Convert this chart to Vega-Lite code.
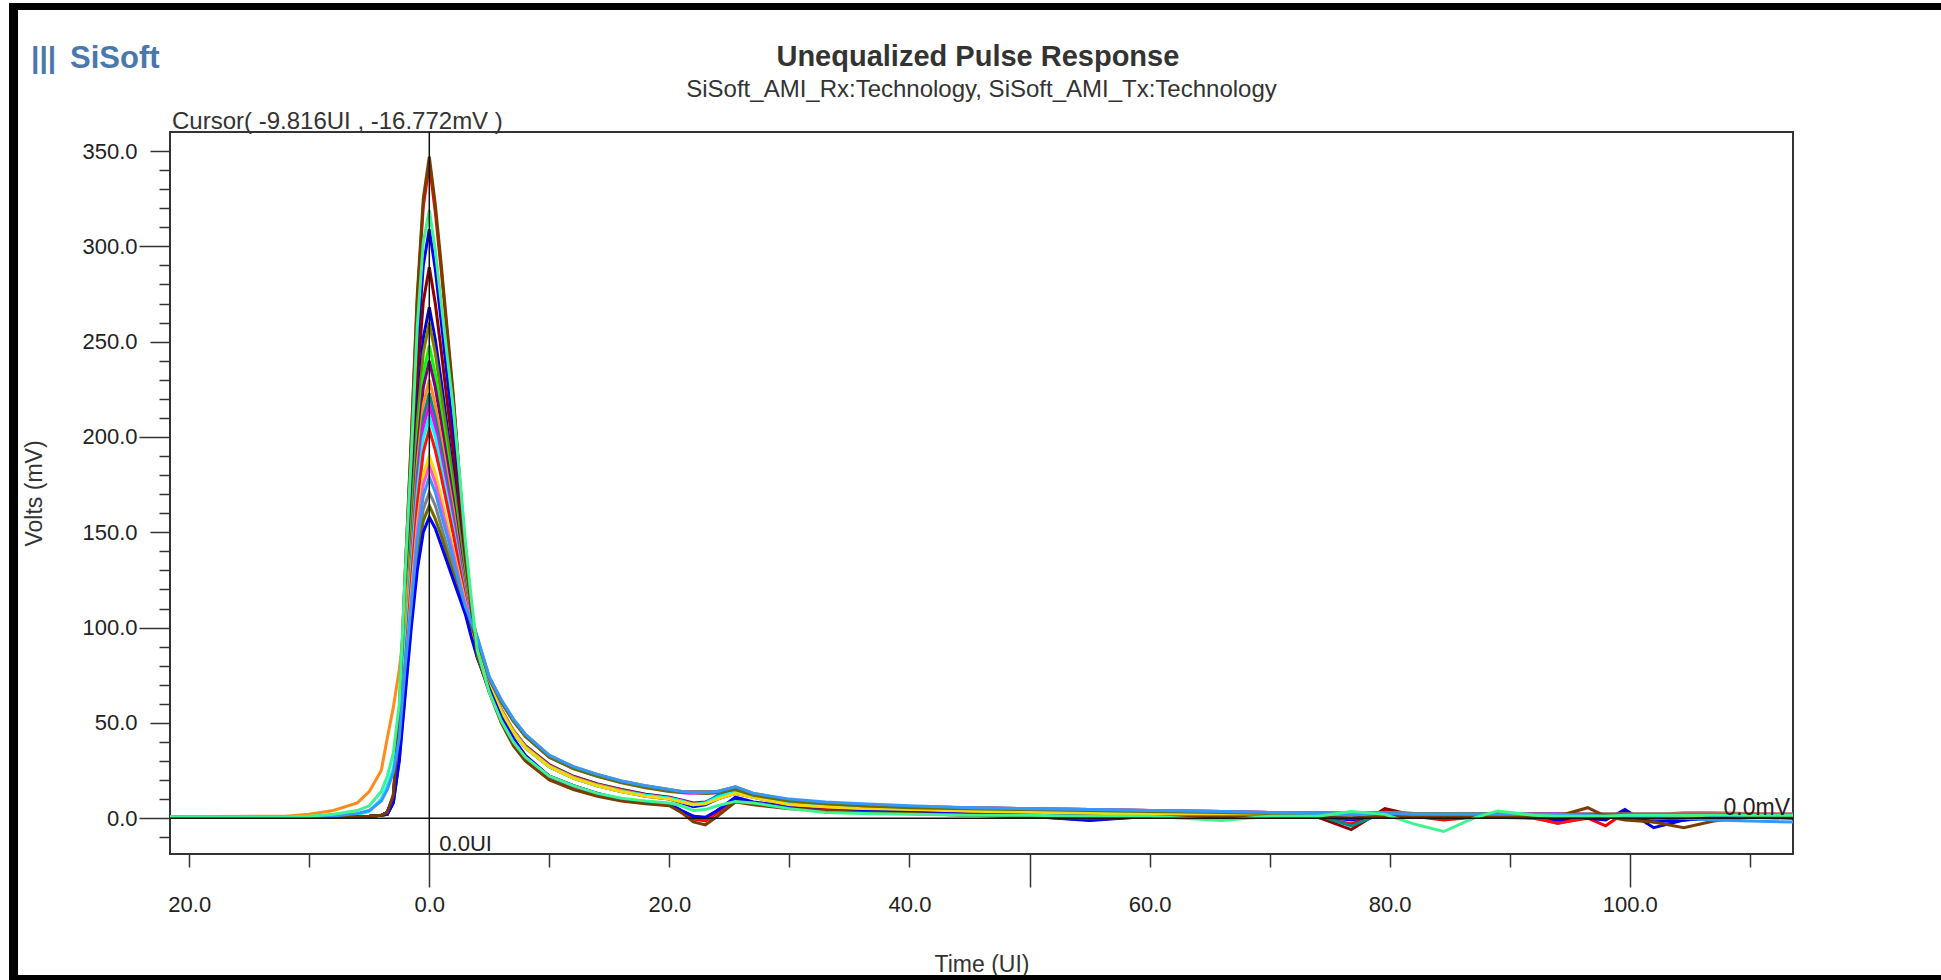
{
  "$schema": "https://vega.github.io/schema/vega-lite/v6.json",
  "autosize": "none",
  "width": 1623,
  "height": 722,
  "padding": {"left": 170, "top": 132, "right": 148, "bottom": 126},
  "background": "white",
  "config": {
    "font": "Liberation Sans",
    "view": {"stroke": "#333333", "strokeWidth": 2},
    "axis": {"grid": false, "domain": false, "labelFont": "Liberation Sans", "titleFont": "Liberation Sans"}
  },
  "resolve": {"axis": {"y": "independent"}},
  "datasets": {
    "pulses": [
      {"t":-21.6,"s01":0.8,"s02":0.8,"s03":0.8,"s04":0.8,"s05":0.8,"s06":0.8,"s07":0.8,"s08":0.8,"s09":0.8,"s10":0.8,"s11":0.8,"s12":0.8,"s13":0.8,"s14":0.8,"s15":0.8,"s16":0.8,"s17":0.8,"s18":0.8,"s19":0.8,"s20":0.8},
      {"t":-12,"s01":0.8,"s02":0.8,"s03":0.8,"s04":0.8,"s05":0.8,"s06":0.8,"s07":0.8,"s08":0.8,"s09":0.8,"s10":1,"s11":0.8,"s12":0.8,"s13":0.8,"s14":0.8,"s15":0.8,"s16":0.8,"s17":0.8,"s18":0.8,"s19":0.8,"s20":0.8},
      {"t":-10,"s01":0.8,"s02":0.8,"s03":1,"s04":0.8,"s05":0.8,"s06":0.8,"s07":0.8,"s08":0.8,"s09":0.8,"s10":2,"s11":0.8,"s12":0.8,"s13":0.8,"s14":0.8,"s15":0.8,"s16":0.8,"s17":0.8,"s18":0.8,"s19":0.8,"s20":0.8},
      {"t":-8,"s01":0.8,"s02":0.8,"s03":2,"s04":0.8,"s05":0.8,"s06":0.8,"s07":0.8,"s08":0.8,"s09":0.8,"s10":4,"s11":0.8,"s12":0.8,"s13":1,"s14":0.8,"s15":0.8,"s16":0.8,"s17":1.2,"s18":0.8,"s19":0.8,"s20":0.8},
      {"t":-6,"s01":0.8,"s02":0.8,"s03":4,"s04":0.8,"s05":0.8,"s06":0.8,"s07":0.8,"s08":0.8,"s09":0.8,"s10":8,"s11":0.8,"s12":0.8,"s13":1.8,"s14":0.8,"s15":0.8,"s16":0.8,"s17":2.5,"s18":0.8,"s19":0.8,"s20":0.8},
      {"t":-5,"s01":1,"s02":1,"s03":6.5,"s04":1,"s05":1,"s06":1,"s07":1,"s08":1,"s09":1,"s10":14,"s11":1,"s12":1,"s13":3.5,"s14":1,"s15":1,"s16":1,"s17":4,"s18":1,"s19":1,"s20":1},
      {"t":-4,"s01":1.5,"s02":1.5,"s03":14,"s04":1.5,"s05":1.5,"s06":1.5,"s07":1.5,"s08":1.5,"s09":1.5,"s10":25,"s11":1.5,"s12":1.5,"s13":10,"s14":1.5,"s15":1.5,"s16":1.5,"s17":9,"s18":1.5,"s19":1.5,"s20":1.5},
      {"t":-3.5,"s01":3,"s02":3,"s03":22,"s04":3,"s05":3,"s06":3,"s07":2.5,"s08":2.5,"s09":2.4,"s10":42,"s11":2.3,"s12":2.3,"s13":17,"s14":2.2,"s15":2.2,"s16":2.1,"s17":15,"s18":2.1,"s19":2,"s20":2},
      {"t":-3,"s01":12,"s02":12,"s03":34,"s04":11,"s05":11,"s06":10,"s07":10,"s08":10,"s09":9.7,"s10":58,"s11":9.4,"s12":9.2,"s13":26,"s14":9,"s15":8.7,"s16":8.6,"s17":24,"s18":8.3,"s19":8.1,"s20":8},
      {"t":-2.5,"s01":55,"s02":54,"s03":60,"s04":50,"s05":47,"s06":45,"s07":43,"s08":42,"s09":41,"s10":78,"s11":39,"s12":38,"s13":45,"s14":36,"s15":34,"s16":34,"s17":42,"s18":32,"s19":31,"s20":30},
      {"t":-2,"s01":130,"s02":129,"s03":130,"s04":117,"s05":110,"s06":103,"s07":100,"s08":96,"s09":93,"s10":105,"s11":87,"s12":85,"s13":90,"s14":81,"s15":76,"s16":74,"s17":80,"s18":70,"s19":67,"s20":65},
      {"t":-1.5,"s01":200,"s02":198,"s03":190,"s04":180,"s05":169,"s06":158,"s07":154,"s08":148,"s09":143,"s10":140,"s11":134,"s12":131,"s13":130,"s14":124,"s15":117,"s16":114,"s17":112,"s18":107,"s19":103,"s20":100},
      {"t":-1,"s01":275,"s02":272,"s03":258,"s04":246,"s05":230,"s06":214,"s07":208,"s08":199,"s09":193,"s10":186,"s11":180,"s12":175,"s13":171,"s14":165,"s15":154,"s16":151,"s17":146,"s18":140,"s19":135,"s20":130},
      {"t":-0.5,"s01":325,"s02":321,"s03":302,"s04":290,"s05":271,"s06":252,"s07":244,"s08":233,"s09":226,"s10":217,"s11":210,"s12":205,"s13":199,"s14":192,"s15":180,"s16":175,"s17":169,"s18":162,"s19":156,"s20":150},
      {"t":0,"s01":347,"s02":343,"s03":319,"s04":309,"s05":289,"s06":268,"s07":260,"s08":248,"s09":240,"s10":230,"s11":223,"s12":217,"s13":211,"s14":204,"s15":190,"s16":185,"s17":179,"s18":171,"s19":164,"s20":158},
      {"t":0.5,"s01":322,"s02":318,"s03":298,"s04":288,"s05":270,"s06":251,"s07":244,"s08":233,"s09":226,"s10":217,"s11":210,"s12":205,"s13":200,"s14":193,"s15":181,"s16":176,"s17":171,"s18":164,"s19":157,"s20":152},
      {"t":1,"s01":290,"s02":287,"s03":270,"s04":260,"s05":245,"s06":229,"s07":222,"s08":213,"s09":207,"s10":199,"s11":194,"s12":189,"s13":184,"s14":179,"s15":168,"s16":164,"s17":159,"s18":153,"s19":148,"s20":143},
      {"t":1.5,"s01":256,"s02":253,"s03":242,"s04":231,"s05":218,"s06":205,"s07":200,"s08":192,"s09":187,"s10":180,"s11":176,"s12":172,"s13":168,"s14":164,"s15":155,"s16":151,"s17":148,"s18":142,"s19":138,"s20":134},
      {"t":2,"s01":222,"s02":220,"s03":215,"s04":202,"s05":192,"s06":181,"s07":177,"s08":171,"s09":167,"s10":162,"s11":158,"s12":155,"s13":152,"s14":149,"s15":141,"s16":139,"s17":136,"s18":132,"s19":128,"s20":125},
      {"t":2.5,"s01":180,"s02":179,"s03":182,"s04":167,"s05":160,"s06":153,"s07":151,"s08":146,"s09":144,"s10":140,"s11":138,"s12":136,"s13":134,"s14":132,"s15":127,"s16":125,"s17":123,"s18":120,"s19":118,"s20":116},
      {"t":3,"s01":140,"s02":139,"s03":146,"s04":133,"s05":130,"s06":126,"s07":125,"s08":123,"s09":121,"s10":120,"s11":118,"s12":117,"s13":116,"s14":115,"s15":113,"s16":112,"s17":111,"s18":109,"s19":108,"s20":107},
      {"t":3.5,"s01":110,"s02":110,"s03":115,"s04":109,"s05":105,"s06":104,"s07":108,"s08":104,"s09":103,"s10":103,"s11":102,"s12":105,"s13":101,"s14":99,"s15":100,"s16":102,"s17":103,"s18":101,"s19":100,"s20":95},
      {"t":4,"s01":85,"s02":85,"s03":88,"s04":90,"s05":85,"s06":85,"s07":94,"s08":90,"s09":90,"s10":90,"s11":90,"s12":94,"s13":90,"s14":85,"s15":90,"s16":94,"s17":95,"s18":94,"s19":93,"s20":84},
      {"t":5,"s01":66,"s02":67,"s03":66,"s04":70,"s05":67,"s06":68,"s07":74,"s08":71,"s09":71,"s10":71,"s11":70,"s12":73,"s13":70,"s14":67,"s15":70,"s16":73,"s17":74,"s18":73,"s19":73,"s20":68},
      {"t":6,"s01":50,"s02":51,"s03":51,"s04":56,"s05":52,"s06":52,"s07":62,"s08":57,"s09":57,"s10":57,"s11":56,"s12":61,"s13":56,"s14":52,"s15":56,"s16":61,"s17":62,"s18":61,"s19":61,"s20":53},
      {"t":7,"s01":38,"s02":39,"s03":40,"s04":45,"s05":40,"s06":40,"s07":52,"s08":46,"s09":46,"s10":46,"s11":45,"s12":51,"s13":45,"s14":40,"s15":45,"s16":51,"s17":52,"s18":51,"s19":51,"s20":42},
      {"t":8,"s01":30,"s02":31,"s03":32,"s04":37,"s05":31,"s06":32,"s07":44,"s08":38,"s09":38,"s10":37.5,"s11":37,"s12":43,"s13":37,"s14":31,"s15":37,"s16":43,"s17":44,"s18":43,"s19":43,"s20":33},
      {"t":10,"s01":20,"s02":21,"s03":22,"s04":27,"s05":21.5,"s06":22,"s07":33,"s08":28,"s09":28,"s10":27.5,"s11":27,"s12":32.5,"s13":27,"s14":21,"s15":27,"s16":32,"s17":33,"s18":32,"s19":32,"s20":22},
      {"t":12,"s01":15,"s02":16,"s03":17,"s04":21,"s05":16,"s06":17,"s07":27,"s08":22,"s09":22,"s10":21.5,"s11":21,"s12":26.5,"s13":21,"s14":16,"s15":21,"s16":26.5,"s17":27,"s18":26,"s19":26,"s20":17},
      {"t":14,"s01":11.5,"s02":12,"s03":13,"s04":17,"s05":12.5,"s06":13,"s07":23,"s08":18,"s09":18,"s10":17.5,"s11":17,"s12":22.5,"s13":17,"s14":12.5,"s15":17,"s16":22.5,"s17":23,"s18":22,"s19":22,"s20":13},
      {"t":16,"s01":9,"s02":9.5,"s03":10.5,"s04":14,"s05":10,"s06":10,"s07":19.5,"s08":15,"s09":15,"s10":14.5,"s11":14,"s12":19,"s13":14,"s14":10,"s15":14,"s16":19,"s17":19.5,"s18":19,"s19":18.5,"s20":10},
      {"t":18,"s01":7.5,"s02":8,"s03":9,"s04":11.5,"s05":8.5,"s06":8.5,"s07":17,"s08":12.5,"s09":12.5,"s10":12,"s11":12,"s12":16.5,"s13":12,"s14":8.5,"s15":11.5,"s16":16.5,"s17":17,"s18":16.5,"s19":16,"s20":8.5},
      {"t":20,"s01":6.5,"s02":7,"s03":8,"s04":10,"s05":7.5,"s06":7.5,"s07":15,"s08":11,"s09":11,"s10":10.5,"s11":10.5,"s12":14.5,"s13":10.5,"s14":7.5,"s15":10,"s16":14.5,"s17":15,"s18":14.5,"s19":14,"s20":7.5},
      {"t":21,"s01":3,"s02":3,"s03":6.5,"s04":8,"s05":3.5,"s06":4,"s07":14,"s08":9,"s09":9.5,"s10":9,"s11":9,"s12":13.5,"s13":9,"s14":3.5,"s15":8.5,"s16":13.5,"s17":14,"s18":14,"s19":13.5,"s20":4},
      {"t":22,"s01":-2,"s02":-0.5,"s03":4,"s04":6,"s05":0,"s06":1,"s07":14,"s08":7,"s09":8,"s10":7.5,"s11":7,"s12":13,"s13":7,"s14":0,"s15":7,"s16":13,"s17":13.5,"s18":14,"s19":13.5,"s20":1},
      {"t":23,"s01":-3.5,"s02":-1.5,"s03":4.5,"s04":7,"s05":-1,"s06":0,"s07":13.5,"s08":8,"s09":8.5,"s10":8,"s11":8,"s12":13,"s13":8,"s14":-1,"s15":7.5,"s16":13,"s17":13.5,"s18":14,"s19":13,"s20":0.5},
      {"t":24,"s01":1,"s02":3,"s03":6.5,"s04":10,"s05":3.5,"s06":4,"s07":14,"s08":11,"s09":11,"s10":10.5,"s11":12,"s12":13.5,"s13":11,"s14":3.5,"s15":10,"s16":13.5,"s17":14,"s18":14,"s19":13.5,"s20":4},
      {"t":25.5,"s01":8.5,"s02":10,"s03":8.8,"s04":13,"s05":10,"s06":11,"s07":16.5,"s08":14,"s09":14,"s10":13,"s11":16,"s12":15.5,"s13":14,"s14":10,"s15":13,"s16":15.5,"s17":16.5,"s18":15.5,"s19":15,"s20":10.5},
      {"t":27,"s01":7,"s02":8,"s03":8,"s04":11,"s05":8,"s06":8.5,"s07":13,"s08":11.5,"s09":11.5,"s10":11,"s11":12,"s12":12.5,"s13":11,"s14":8,"s15":11,"s16":12.5,"s17":13,"s18":12.5,"s19":12,"s20":8},
      {"t":30,"s01":5,"s02":5.5,"s03":5,"s04":7,"s05":5.5,"s06":6,"s07":9.6,"s08":7.5,"s09":7.5,"s10":7,"s11":7.5,"s12":9.5,"s13":7.5,"s14":5.5,"s15":7,"s16":9.5,"s17":10,"s18":9.5,"s19":9,"s20":5.5},
      {"t":33,"s01":4,"s02":4.5,"s03":3,"s04":6,"s05":4.5,"s06":4,"s07":8,"s08":6,"s09":6,"s10":6,"s11":6,"s12":8,"s13":6,"s14":4.5,"s15":6,"s16":8,"s17":8.5,"s18":8,"s19":7.5,"s20":4},
      {"t":36,"s01":3,"s02":3.5,"s03":2.5,"s04":5,"s05":3.5,"s06":3.5,"s07":7,"s08":5,"s09":5,"s10":5,"s11":5,"s12":7,"s13":5,"s14":3.5,"s15":5,"s16":7,"s17":7.5,"s18":7,"s19":6.5,"s20":3.5},
      {"t":40,"s01":2.5,"s02":2.5,"s03":2,"s04":4,"s05":3,"s06":3,"s07":6,"s08":4.5,"s09":4.5,"s10":4,"s11":4,"s12":6,"s13":4.5,"s14":3,"s15":4.5,"s16":6,"s17":6.5,"s18":6,"s19":5.5,"s20":3},
      {"t":45,"s01":1.5,"s02":1.5,"s03":1.5,"s04":3.5,"s05":2,"s06":2,"s07":5.5,"s08":4,"s09":3.5,"s10":3.5,"s11":3.5,"s12":5.5,"s13":4,"s14":2,"s15":3.5,"s16":5.5,"s17":5.5,"s18":5.5,"s19":5,"s20":2},
      {"t":50,"s01":0.5,"s02":1,"s03":1.5,"s04":3,"s05":1.5,"s06":1,"s07":5,"s08":3.5,"s09":3,"s10":3,"s11":3,"s12":5,"s13":3.5,"s14":1.5,"s15":3,"s16":5,"s17":5,"s18":5,"s19":4.5,"s20":1.5},
      {"t":55,"s01":0,"s02":-1,"s03":1,"s04":2.5,"s05":1,"s06":-1.2,"s07":4.5,"s08":3,"s09":2.5,"s10":2.5,"s11":2.5,"s12":4.5,"s13":3,"s14":1,"s15":2.5,"s16":4.5,"s17":4.5,"s18":4.5,"s19":4,"s20":1},
      {"t":60,"s01":0.5,"s02":1,"s03":1,"s04":2,"s05":1,"s06":1,"s07":4,"s08":2.5,"s09":2,"s10":2,"s11":2,"s12":4,"s13":2.5,"s14":1,"s15":2,"s16":4,"s17":4,"s18":4,"s19":3.5,"s20":0.5},
      {"t":66,"s01":0.5,"s02":1,"s03":-1.2,"s04":2,"s05":1,"s06":1,"s07":3.5,"s08":3.5,"s09":2,"s10":2,"s11":2,"s12":3.5,"s13":2.5,"s14":0.5,"s15":2,"s16":3.5,"s17":3.5,"s18":3.5,"s19":3,"s20":0.5},
      {"t":70,"s01":0.5,"s02":1,"s03":1,"s04":1.5,"s05":1,"s06":1.5,"s07":3,"s08":2,"s09":2,"s10":2,"s11":1.5,"s12":3,"s13":2,"s14":0.5,"s15":2,"s16":3,"s17":3,"s18":3,"s19":2.5,"s20":0.5},
      {"t":74,"s01":0.5,"s02":0.5,"s03":1,"s04":1.5,"s05":0.5,"s06":1,"s07":3,"s08":2,"s09":1.5,"s10":1.5,"s11":1.5,"s12":3,"s13":2,"s14":0.5,"s15":1.5,"s16":3,"s17":2.5,"s18":3,"s19":2.5,"s20":0.5},
      {"t":76.8,"s01":0,"s02":-3,"s03":3.5,"s04":1,"s05":-6,"s06":-1,"s07":2,"s08":1,"s09":1,"s10":1,"s11":-4,"s12":3,"s13":1,"s14":0,"s15":1.5,"s16":3,"s17":2,"s18":2.5,"s19":2,"s20":0},
      {"t":79.6,"s01":1,"s02":4,"s03":2,"s04":2,"s05":5,"s06":2,"s07":3,"s08":2,"s09":2,"s10":2,"s11":3,"s12":3,"s13":2,"s14":1.5,"s15":2,"s16":3,"s17":2.5,"s18":3,"s19":2.5,"s20":1},
      {"t":82,"s01":0.5,"s02":1,"s03":-3,"s04":1.5,"s05":1.5,"s06":1,"s07":2.5,"s08":1.5,"s09":1.5,"s10":1.5,"s11":1.5,"s12":2.5,"s13":1.5,"s14":1,"s15":1.5,"s16":2.5,"s17":2,"s18":2.5,"s19":2,"s20":0.5},
      {"t":84.5,"s01":0.5,"s02":-1,"s03":-7,"s04":1.5,"s05":1,"s06":1,"s07":2,"s08":1.5,"s09":1.5,"s10":1.5,"s11":1.5,"s12":2.5,"s13":1.5,"s14":0.5,"s15":2.5,"s16":2.5,"s17":2,"s18":2.5,"s19":2,"s20":0.5},
      {"t":87,"s01":0.5,"s02":0.5,"s03":0,"s04":1.5,"s05":0.5,"s06":1,"s07":2,"s08":1.5,"s09":1.5,"s10":1.5,"s11":1.5,"s12":2.5,"s13":1.5,"s14":0.5,"s15":1.5,"s16":2.5,"s17":2,"s18":2.5,"s19":2,"s20":0.5},
      {"t":89,"s01":0.5,"s02":0.5,"s03":3.8,"s04":1.5,"s05":0.5,"s06":1,"s07":2,"s08":1.5,"s09":1.5,"s10":1.5,"s11":1.5,"s12":2.5,"s13":1.5,"s14":0.5,"s15":1.5,"s16":2.5,"s17":2,"s18":2.5,"s19":2,"s20":0.5},
      {"t":92,"s01":0.5,"s02":0,"s03":1.5,"s04":1.5,"s05":0.5,"s06":0.5,"s07":2,"s08":1.5,"s09":1,"s10":1.5,"s11":1.5,"s12":2.5,"s13":1.5,"s14":0.5,"s15":1.5,"s16":2,"s17":2,"s18":2,"s19":2,"s20":0.5},
      {"t":94,"s01":1,"s02":-2.5,"s03":1,"s04":1.5,"s05":0,"s06":-1,"s07":2,"s08":1.5,"s09":1,"s10":1.5,"s11":1.5,"s12":2.5,"s13":1.5,"s14":-2.8,"s15":1.5,"s16":2,"s17":2,"s18":2,"s19":2,"s20":0.5},
      {"t":96.5,"s01":5.5,"s02":0,"s03":1,"s04":1.5,"s05":0.5,"s06":0,"s07":2,"s08":1.5,"s09":1,"s10":1.5,"s11":1,"s12":2,"s13":1.5,"s14":0.5,"s15":1.5,"s16":2,"s17":1.5,"s18":2,"s19":2,"s20":0.5},
      {"t":98,"s01":1,"s02":-4,"s03":1,"s04":1.5,"s05":1,"s06":-1,"s07":2,"s08":1.5,"s09":1,"s10":1.5,"s11":1,"s12":2,"s13":1.5,"s14":0.5,"s15":1.5,"s16":2,"s17":1,"s18":2,"s19":2,"s20":0.5},
      {"t":99.6,"s01":-1,"s02":3,"s03":1.5,"s04":1.5,"s05":2,"s06":4.6,"s07":2,"s08":1.5,"s09":1,"s10":1.5,"s11":1,"s12":2,"s13":1.5,"s14":1,"s15":1.5,"s16":2,"s17":1,"s18":2,"s19":2,"s20":1},
      {"t":102,"s01":-2,"s02":-1,"s03":1.5,"s04":1.5,"s05":0,"s06":-5,"s07":2,"s08":1,"s09":1,"s10":1.5,"s11":-1,"s12":2,"s13":1.5,"s14":1,"s15":1.5,"s16":2,"s17":0.5,"s18":2,"s19":2,"s20":-2},
      {"t":104.5,"s01":-5,"s02":-1,"s03":1.5,"s04":1.5,"s05":-0.5,"s06":-1,"s07":2,"s08":1,"s09":1,"s10":3,"s11":1,"s12":2,"s13":1.5,"s14":0.5,"s15":1.5,"s16":2,"s17":0,"s18":2,"s19":2,"s20":-1},
      {"t":107,"s01":-1.5,"s02":1,"s03":1.5,"s04":1.5,"s05":0.5,"s06":0,"s07":2,"s08":1,"s09":1,"s10":3,"s11":1,"s12":2,"s13":1.5,"s14":0.5,"s15":1.5,"s16":2,"s17":-1,"s18":2,"s19":2,"s20":0.5},
      {"t":110,"s01":0.5,"s02":1.5,"s03":1.5,"s04":1.5,"s05":1,"s06":0.5,"s07":2,"s08":1,"s09":1,"s10":2.5,"s11":1,"s12":2,"s13":1,"s14":0.5,"s15":1,"s16":2,"s17":-1.5,"s18":2,"s19":2,"s20":1},
      {"t":113.6,"s01":0.5,"s02":1,"s03":1.5,"s04":1,"s05":1,"s06":0,"s07":2,"s08":1,"s09":1,"s10":2,"s11":1,"s12":2,"s13":1,"s14":0.5,"s15":1,"s16":2,"s17":-2,"s18":2,"s19":1.5,"s20":1.5}
    ]
  },
  "layer": [
    {
      "data": {"name": "pulses"},
      "transform": [{"fold": ["s02","s04","s05","s06","s07","s08","s09","s10","s11","s12","s13","s14","s15","s16","s18","s19","s20","s01","s17","s03"], "as": ["trace", "mV"]}],
      "mark": {"type": "line", "strokeWidth": 3, "interpolate": "linear"},
      "encoding": {
        "x": {
          "field": "t", "type": "quantitative",
          "scale": {"domain": [-21.6, 113.6], "nice": false, "zero": false},
          "axis": {
            "values": [-20,-10,0,10,20,30,40,50,60,70,80,90,100,110],
            "labelExpr": "datum.value % 20 === 0 ? format(abs(datum.value), '.1f') : ''",
            "tickSize": {"condition": {"test": "datum.value % 50 === 0", "value": 33}, "value": 13},
            "labelPadding": {"condition": {"test": "datum.value % 50 === 0", "value": 7}, "value": 27},
            "tickColor": "#333333", "tickWidth": 1.5,
            "labelFontSize": 22, "labelColor": "#222222",
            "labelFlush": false, "labelOverlap": false,
            "title": "Time (UI)", "titleFontSize": 23, "titleFontWeight": "normal", "titleColor": "#333333", "titlePadding": 38
          }
        },
        "y": {
          "field": "mV", "type": "quantitative",
          "scale": {"domain": [-18.8, 360], "nice": false, "zero": false},
          "axis": {
            "orient": "left",
            "values": [0,50,100,150,200,250,300,350],
            "format": ".1f",
            "tickSize": {"condition": {"test": "datum.value % 100 === 0", "value": 31}, "value": 20},
            "labelPadding": {"condition": {"test": "datum.value % 100 === 0", "value": 2}, "value": 13},
            "tickColor": "#333333", "tickWidth": 1.5,
            "labelFontSize": 22, "labelColor": "#222222",
            "labelOverlap": false, "labelFlush": false,
            "title": "Volts (mV)", "titleFontSize": 23, "titleFontWeight": "normal", "titleColor": "#333333", "titlePadding": 35
          }
        },
        "color": {
          "field": "trace", "type": "nominal", "legend": null,
          "scale": {
            "domain": ["s01","s02","s03","s04","s05","s06","s07","s08","s09","s10","s11","s12","s13","s14","s15","s16","s17","s18","s19","s20"],
            "range": ["#7A3D00","#FF0000","#3CF58F","#0000FF","#8B0000","#0000E0","#808000","#00FF00","#800080","#FF8C1A","#008B8B","#FF00FF","#00FFFF","#FF1010","#FFD700","#FF55DD","#3399FF","#808080","#6B6B00","#0000FF"]
          }
        }
      }
    },
    {
      "data": {"values": [{}]},
      "mark": {"type": "rule", "color": "#111111", "strokeWidth": 1.5},
      "encoding": {
        "y": {
          "datum": 0,
          "axis": {
            "orient": "left",
            "values": [-10,10,20,30,40,60,70,80,90,110,120,130,140,160,170,180,190,210,220,230,240,260,270,280,290,310,320,330,340],
            "labels": false, "tickSize": 11, "tickColor": "#333333", "tickWidth": 1.5, "title": null
          }
        }
      }
    },
    {
      "data": {"values": [{}]},
      "mark": {"type": "rule", "color": "#111111", "strokeWidth": 1.5},
      "encoding": {"x": {"datum": 0}}
    },
    {
      "data": {"values": [{}]},
      "mark": {"type": "text", "text": "0.0UI", "fontSize": 22, "align": "left", "baseline": "alphabetic", "dx": 10, "dy": 33, "color": "#222222"},
      "encoding": {"x": {"datum": 0}, "y": {"datum": 0, "axis": null}}
    },
    {
      "data": {"values": [{}]},
      "mark": {"type": "text", "text": "0.0mV", "fontSize": 23, "align": "right", "baseline": "alphabetic", "dx": -3, "dy": -3, "color": "#222222"},
      "encoding": {"x": {"datum": 113.6}, "y": {"datum": 0, "axis": null}}
    },
    {
      "data": {"values": [{}]},
      "mark": {"type": "text", "text": "Cursor( -9.816UI , -16.772mV )", "fontSize": 24, "align": "left", "baseline": "alphabetic", "dx": 2, "dy": -3, "color": "#333333"},
      "encoding": {"x": {"datum": -21.6}, "y": {"datum": 360, "axis": null}}
    },
    {
      "data": {"values": [{}]},
      "mark": {"type": "text", "text": "Unequalized Pulse Response", "fontSize": 29, "fontWeight": "bold", "align": "center", "baseline": "alphabetic", "color": "#333333"},
      "encoding": {"x": {"datum": 45.7}, "y": {"datum": 394.8, "axis": null}}
    },
    {
      "data": {"values": [{}]},
      "mark": {"type": "text", "text": "SiSoft_AMI_Rx:Technology, SiSoft_AMI_Tx:Technology", "fontSize": 24, "align": "center", "baseline": "alphabetic", "color": "#333333"},
      "encoding": {"x": {"datum": 46.0}, "y": {"datum": 378.4, "axis": null}}
    },
    {
      "data": {"values": [{}]},
      "mark": {"type": "text", "text": "|||", "fontSize": 30, "fontWeight": "bold", "align": "left", "baseline": "alphabetic", "color": "#4A78AD"},
      "encoding": {"x": {"datum": -33.18}, "y": {"datum": 393.5, "axis": null}}
    },
    {
      "data": {"values": [{}]},
      "mark": {"type": "text", "text": "SiSoft", "fontSize": 31, "fontWeight": "bold", "align": "left", "baseline": "alphabetic", "color": "#4A78AD"},
      "encoding": {"x": {"datum": -29.93}, "y": {"datum": 393.5, "axis": null}}
    },
    {
      "data": {"values": [{}]},
      "mark": {"type": "rect", "color": "#000000"},
      "encoding": {"x": {"datum": -35.01}, "x2": {"datum": -34.26}, "y": {"datum": 427.7, "axis": null}, "y2": {"datum": -86}}
    },
    {
      "data": {"values": [{}]},
      "mark": {"type": "rect", "color": "#000000"},
      "encoding": {"x": {"datum": -35.01}, "x2": {"datum": 127}, "y": {"datum": 427.7, "axis": null}, "y2": {"datum": 424.0}}
    },
    {
      "data": {"values": [{}]},
      "mark": {"type": "rect", "color": "#000000"},
      "encoding": {"x": {"datum": -35.01}, "x2": {"datum": 127}, "y": {"datum": -82.3, "axis": null}, "y2": {"datum": -86}}
    }
  ]
}
